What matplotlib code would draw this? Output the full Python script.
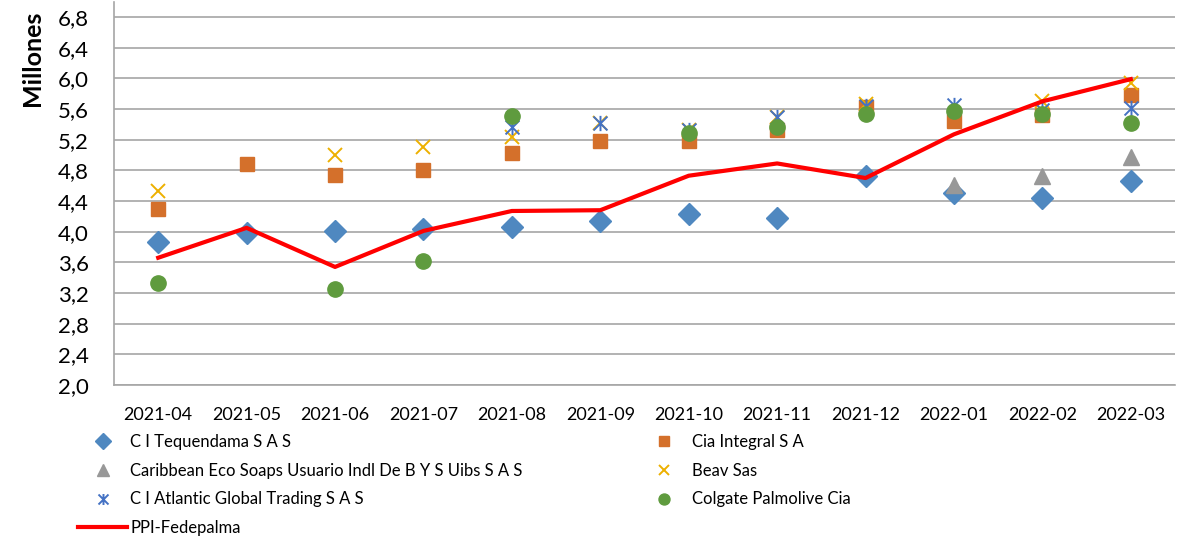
import numpy as np
import matplotlib
matplotlib.use("Agg")
import matplotlib.pyplot as plt
from matplotlib.path import Path
from matplotlib.ticker import FuncFormatter

plt.rcParams['font.family'] = ['Lato', 'DejaVu Sans']

months = ["2021-04", "2021-05", "2021-06", "2021-07", "2021-08", "2021-09",
          "2021-10", "2021-11", "2021-12", "2022-01", "2022-02", "2022-03"]
nan = np.nan
tequendama = [3.86, 3.98, 4.01, 4.03, 4.06, 4.14, 4.23, 4.18, 4.72, 4.51, 4.44, 4.66]
cia_integral = [4.30, 4.88, 4.74, 4.80, 5.03, 5.18, 5.18, 5.33, 5.63, 5.45, 5.52, 5.78]
caribbean = [nan, nan, nan, nan, nan, nan, nan, nan, nan, 4.61, 4.72, 4.97]
beav = [4.53, nan, 5.00, 5.11, 5.24, 5.42, 5.33, 5.50, 5.67, nan, 5.70, 5.94]
atlantic = [nan, nan, nan, nan, 5.36, 5.42, 5.33, 5.50, 5.64, 5.65, 5.59, 5.61]
colgate = [3.33, nan, 3.25, 3.62, 5.51, nan, 5.29, 5.37, 5.54, 5.57, 5.54, 5.42]
ppi = [3.66, 4.05, 3.54, 4.01, 4.27, 4.28, 4.73, 4.89, 4.70, 5.27, 5.70, 5.99]

W, H = 1181, 538
fig = plt.figure(figsize=(W / 100, H / 100), dpi=100)
ax = fig.add_axes([114 / W, 1 - 385 / H, (1175 - 114) / W, (385 - 1.7) / H])

x = np.arange(len(months))

star = Path([(-1, -1), (1, 1), (-1, 1), (1, -1), (0, -1.1), (0, 1.1)],
            [Path.MOVETO, Path.LINETO, Path.MOVETO, Path.LINETO, Path.MOVETO, Path.LINETO])

c_blue = '#4F88C0'
c_orange = '#D4702B'
c_gray = '#989898'
c_yellow = '#EDB000'
c_star = '#4472C4'
c_green = '#5F9B3E'

h1, = ax.plot(x, tequendama, linestyle='none', marker='D', markersize=11, color=c_blue,
              label='C I Tequendama S A S', zorder=3)
h2, = ax.plot(x, cia_integral, linestyle='none', marker='s', markersize=10.5, color=c_orange,
              label='Cia Integral S A', zorder=3)
h3, = ax.plot(x, caribbean, linestyle='none', marker='^', markersize=11.5, color=c_gray,
              label='Caribbean Eco Soaps Usuario Indl De B Y S Uibs S A S', zorder=3)
h4, = ax.plot(x, beav, linestyle='none', marker='x', markersize=10, markeredgewidth=1.4,
              color=c_yellow, label='Beav Sas', zorder=3)
h5, = ax.plot(x, atlantic, linestyle='none', marker=star, markersize=11, markeredgewidth=1.4,
              color=c_star, label='C I Atlantic Global Trading S A S', zorder=3)
h6, = ax.plot(x, colgate, linestyle='none', marker='o', markersize=11, color=c_green,
              label='Colgate Palmolive Cia', zorder=3)
h7, = ax.plot(x, ppi, color='#FF0000', linewidth=3, label='PPI-Fedepalma', zorder=4)

ax.set_xlim(-0.5, len(months) - 0.5)
ax.set_ylim(2.0, 7.0)
ax.set_xticks(x)
ax.set_xticklabels(months)
ax.yaxis.set_major_formatter(FuncFormatter(lambda v, p: f"{v:.1f}".replace('.', ',')))
ax.set_yticks(np.arange(2.0, 6.81, 0.4))
ax.grid(axis='y', color='#A6A6A6', linewidth=1.2)
ax.set_axisbelow(True)
for s in ['top', 'right']:
    ax.spines[s].set_visible(False)
for s in ['left', 'bottom']:
    ax.spines[s].set_color('#A6A6A6')
    ax.spines[s].set_linewidth(1.2)
ax.tick_params(axis='x', length=0, pad=16, labelsize=13, colors='black')
ax.tick_params(axis='y', length=0, pad=18, labelsize=16, colors='black')

fig.text(33 / W, 1 - 58 / H, 'Millones', rotation=90, fontsize=18, fontweight='bold',
         ha='center', va='center')

handles = [h1, h3, h5, h7, h2, h4, h6]
leg = fig.legend(handles=handles, labels=[h.get_label() for h in handles], ncol=2,
                 loc='upper left', bbox_to_anchor=(78 / W, 1 - 434 / H),
                 frameon=False, fontsize=12.0, handlelength=2.95, handletextpad=0.2,
                 columnspacing=7.0, labelspacing=0.76, borderpad=0, borderaxespad=0)
for lh in leg.legend_handles:
    if str(lh.get_linestyle()).lower() == 'none':
        lh.set_markersize(lh.get_markersize() * 0.72)

fig.savefig('out.png', dpi=100)
